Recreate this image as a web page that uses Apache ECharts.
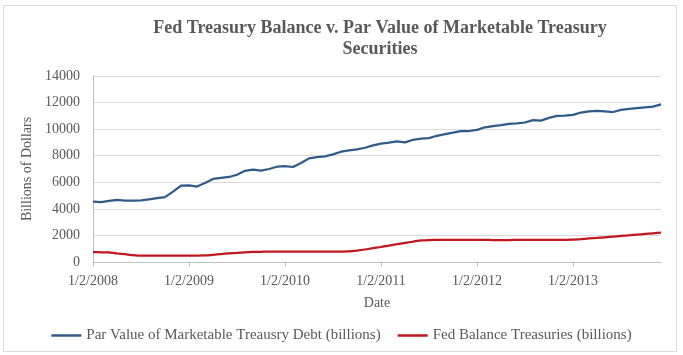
<!DOCTYPE html>
<html>
<head>
<meta charset="utf-8">
<script src="https://cdn.jsdelivr.net/npm/echarts@6/dist/echarts.min.js"></script>
<style>
  html, body { margin: 0; padding: 0; background: #fff; }
  #chart { width: 683px; height: 355px; }
</style>
</head>
<body>
<div id="chart"></div>
<script>
// monthly, Jan 2008 .. Dec 2013 (labels are the 2nd of each month)
var years = [2008, 2009, 2010, 2011, 2012, 2013];
var dates = [];
years.forEach(function (y) {
  for (var m = 1; m <= 12; m++) dates.push(m + "/2/" + y);
});

// billions of dollars
var parValue = [
  4540, 4500, 4600, 4680, 4620, 4620, 4640, 4720, 4800, 4880, 5300, 5740,
  5770, 5680, 5950, 6250, 6330, 6400, 6570, 6860, 6950, 6880, 7000, 7170,
  7220, 7150, 7450, 7800, 7900, 7950, 8100, 8300, 8400, 8470, 8600, 8780,
  8910, 8980, 9080, 9000, 9200, 9280, 9330, 9500, 9630, 9740, 9850, 9860,
  9950, 10140, 10220, 10300, 10400, 10440, 10500, 10680, 10640, 10850, 11000, 11020,
  11080, 11250, 11330, 11380, 11340, 11290, 11450, 11520, 11580, 11640, 11700, 11870
];

var fedBalance = [
  750, 730, 720, 650, 590, 520, 480, 480, 480, 480, 480, 480,
  480, 480, 490, 540, 600, 650, 690, 730, 760, 770, 780, 780,
  780, 780, 785, 785, 785, 785, 790, 790, 800, 860, 940, 1040,
  1130, 1240, 1340, 1440, 1540, 1620, 1650, 1660, 1670, 1670, 1670, 1660,
  1660, 1660, 1655, 1650, 1655, 1660, 1660, 1660, 1660, 1660, 1665, 1670,
  1680, 1720, 1770, 1810, 1860, 1910, 1960, 2010, 2060, 2110, 2160, 2210
];

var gray = "#595959";
var font = "Liberation Serif";

var myChart = echarts.init(document.getElementById("chart"));
var option = {
  animation: false,
  title: {
    text: "Fed Treasury Balance v. Par Value of Marketable Treasury\nSecurities",
    left: 375,
    top: 13,
    textAlign: "center",
    textStyle: {
      fontFamily: font,
      fontSize: 18,
      fontWeight: "bold",
      color: gray,
      lineHeight: 21,
    },
  },
  graphic: [
    {
      type: "rect",
      shape: { x: 3.5, y: 5.5, width: 673, height: 346 },
      style: { fill: null, stroke: "#d9d9d9", lineWidth: 1 },
      silent: true,
    },
  ],
  legend: {
    bottom: 7,
    left: "center",
    icon: "rect",
    itemWidth: 30,
    itemHeight: 2.5,
    itemGap: 17,
    textStyle: { fontFamily: font, fontSize: 15, color: gray },
    data: [
      "Par Value of Marketable Treausry Debt (billions)",
      "Fed Balance Treasuries (billions)",
    ],
  },
  grid: { left: 93, right: 22, top: 76, bottom: 93 },
  xAxis: {
    type: "category",
    boundaryGap: false,
    data: dates,
    name: "Date",
    nameLocation: "middle",
    nameGap: 34,
    nameTextStyle: { fontFamily: font, fontSize: 14, color: gray },
    axisLine: { lineStyle: { color: "#bfbfbf" } },
    axisTick: { interval: 11, length: 5, lineStyle: { color: "#bfbfbf" } },
    axisLabel: {
      interval: 11,
      fontFamily: font,
      fontSize: 14,
      color: gray,
      margin: 12,
    },
  },
  yAxis: {
    type: "value",
    min: 0,
    max: 14000,
    interval: 2000,
    name: "Billions of Dollars",
    nameLocation: "middle",
    nameGap: 51,
    nameTextStyle: { fontFamily: font, fontSize: 14, color: gray },
    axisLine: { show: true, lineStyle: { color: "#bfbfbf" } },
    axisTick: { show: false },
    axisLabel: {
      fontFamily: font,
      fontSize: 14,
      color: gray,
      margin: 13,
      formatter: function (v) { return String(v); },
    },
    splitLine: { lineStyle: { color: "#d9d9d9" } },
  },
  series: [
    {
      name: "Par Value of Marketable Treausry Debt (billions)",
      type: "line",
      data: parValue,
      symbol: "none",
      lineStyle: { color: "#2f5b89", width: 2.25 },
      itemStyle: { color: "#2f5b89" },
    },
    {
      name: "Fed Balance Treasuries (billions)",
      type: "line",
      data: fedBalance,
      symbol: "none",
      smooth: 0.2,
      lineStyle: { color: "#c0161d", width: 2.25 },
      itemStyle: { color: "#c0161d" },
    },
  ],
};
myChart.setOption(option);
</script>
</body>
</html>
